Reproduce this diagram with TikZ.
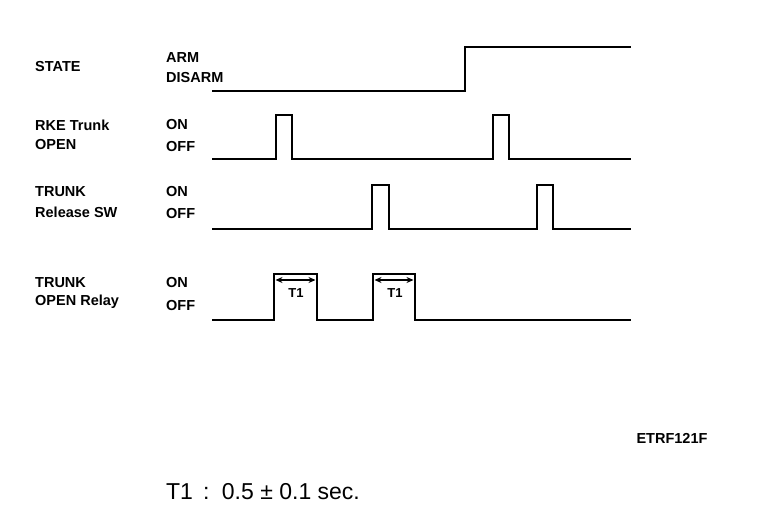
\documentclass[tikz,border=0pt]{standalone}
\usepackage{fontspec}
\setmainfont{Liberation Sans}
\usetikzlibrary{arrows.meta}

\begin{document}
\begin{tikzpicture}[x=1pt,y=-1pt,
    every node/.style={font=\bfseries\fontsize{14.5}{16}\selectfont,inner sep=0pt,anchor=west},
    sig/.style={line width=2.4pt,line join=miter},
    dim/.style={line width=1.5pt,{Stealth[length=7pt,width=6pt]}-{Stealth[length=7pt,width=6pt]}}]
    \useasboundingbox (0,0) rectangle (768,526);
    % signal names and levels
    \node (state) at (35,67) {STATE};
    \node (arm) at (166,58) {ARM};
    \node (disarm) at (166,78) {DISARM};
    \node (rke) at (35,125) {RKE Trunk};
    \node (rkeopen) at (35,145) {OPEN};
    \node (rkeon) at (166,125) {ON};
    \node (rkeoff) at (166,147) {OFF};
    \node (trunk) at (35,192) {TRUNK};
    \node (relsw) at (35,212) {Release SW};
    \node (relon) at (166,192) {ON};
    \node (reloff) at (166,214) {OFF};
    \node (trunk2) at (35,283) {TRUNK};
    \node (relay) at (35,302) {OPEN Relay};
    \node (relayon) at (166,283) {ON};
    \node (relayoff) at (166,306) {OFF};
    % waveforms
    \draw[sig] (212,91) -- (465,91) -- (465,47) -- (631,47);
    \draw[sig] (212,159) -- (276,159) -- (276,115) -- (292,115) -- (292,159)
        -- (493,159) -- (493,115) -- (509,115) -- (509,159) -- (631,159);
    \draw[sig] (212,229) -- (372,229) -- (372,185) -- (389,185) -- (389,229)
        -- (537,229) -- (537,185) -- (553,185) -- (553,229) -- (631,229);
    \draw[sig] (212,320) -- (274,320) -- (274,274) -- (317,274) -- (317,320)
        -- (373,320) -- (373,274) -- (415,274) -- (415,320) -- (631,320);
    % T1 widths
    \coordinate (p1s) at (275.5,280);
    \coordinate (p1e) at (315.5,280);
    \coordinate (p2s) at (374.5,280);
    \coordinate (p2e) at (413.5,280);
    \draw[dim] (p1s) -- (p1e);
    \draw[dim] (p2s) -- (p2e);
    \node[anchor=center,font=\bfseries\fontsize{13}{14}\selectfont] (t1a) at (296,293) {T1};
    \node[anchor=center,font=\bfseries\fontsize{13}{14}\selectfont] (t1b) at (395,293) {T1};
    \node[anchor=center,font=\bfseries\fontsize{14.5}{16}\selectfont] (code) at (672,438) {ETRF121F};
    \node[anchor=center,font=\fontsize{23}{26}\selectfont] (note) at (263,492) {T1 \,:\, 0.5 ± 0.1 sec.};
\end{tikzpicture}
\end{document}
